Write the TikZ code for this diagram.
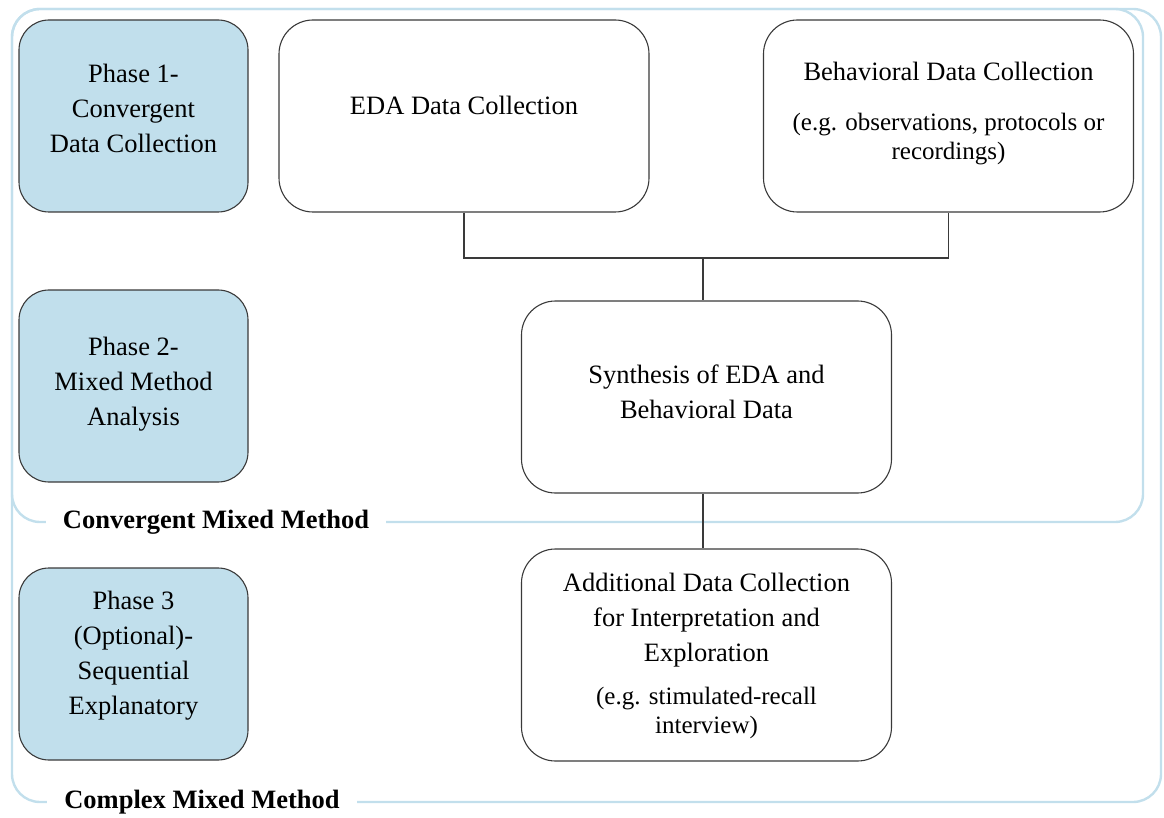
\documentclass[tikz,border=0pt]{standalone}
\usepackage{fontspec}
\setmainfont{Liberation Serif}
\definecolor{framec}{HTML}{C2DFEC}
\definecolor{phasec}{HTML}{C1DFEC}
\definecolor{edgec}{HTML}{3A3A3A}
\tikzset{
  frameline/.style={draw=framec, line width=2.4pt, rounded corners=28pt},
  framelabel/.style={fill=white, inner xsep=17pt, inner ysep=2pt, font=\fontsize{26.5}{30}\selectfont\bfseries},
  phasebox/.style={draw=edgec, line width=1.1pt, fill=phasec, rounded corners=30pt, minimum width=229pt, minimum height=192pt},
  whitebox/.style={draw=edgec, line width=1.1pt, fill=white, rounded corners=34pt, minimum width=370pt, minimum height=192pt},
  maintext/.style={align=center, font=\fontsize{26.5}{35}\selectfont},
  egtext/.style={align=center, font=\fontsize{25}{29}\selectfont},
  conn/.style={draw=edgec, line width=1.1pt}
}
\begin{document}
\begin{tikzpicture}[x=1pt,y=-1pt]
\useasboundingbox (0,0) rectangle (1164,818);
% frames
\draw[frameline] (12,9) rectangle (1161,802);
\draw[frameline] (12,9) rectangle (1143,522);
\node[framelabel] (lconv) at (216,522) {Convergent Mixed Method};
\node[framelabel] (lcomp) at (202,802) {Complex Mixed Method};
% phase boxes
\node[phasebox] (p1) at (133.5,116) {};
\node[maintext] (p1t) at (133.5,108) {Phase 1-\\Convergent\\Data Collection};
\node[phasebox] (p2) at (133.5,386) {};
\node[maintext] (p2t) at (133.5,384) {Phase 2-\\Mixed Method\\Analysis};
\node[phasebox] (p3) at (133.5,664) {};
\node[maintext] (p3t) at (133.5,656) {Phase 3\\(Optional)-\\Sequential\\Explanatory};
% white boxes
\node[whitebox] (eda) at (464,116) {};
\node[maintext] (edat) at (464,105) {EDA Data Collection};
\node[whitebox] (beh) at (948.5,116) {};
\node[maintext] (beht) at (948.5,71) {Behavioral Data Collection};
\node[egtext] (behe) at (948.5,139) {(e.g. observations, protocols or\\recordings)};
\node[whitebox] (syn) at (706.5,397) {};
\node[maintext] (synt) at (706.5,392) {Synthesis of EDA and\\Behavioral Data};
\node[whitebox, minimum height=212pt] (add) at (706.5,655) {};
\node[maintext] (addt) at (706.5,620) {Additional Data Collection\\for Interpretation and\\Exploration};
\node[egtext] (adde) at (706.5,713) {(e.g. stimulated-recall\\interview)};
% connectors
\coordinate (j) at (703,258);
\draw[conn] (eda.south) |- (j) -| (beh.south);
\draw[conn] (j) -- (j |- syn.north);
\draw[conn] (syn.south -| j) -- (add.north -| j);
\end{tikzpicture}
\end{document}
